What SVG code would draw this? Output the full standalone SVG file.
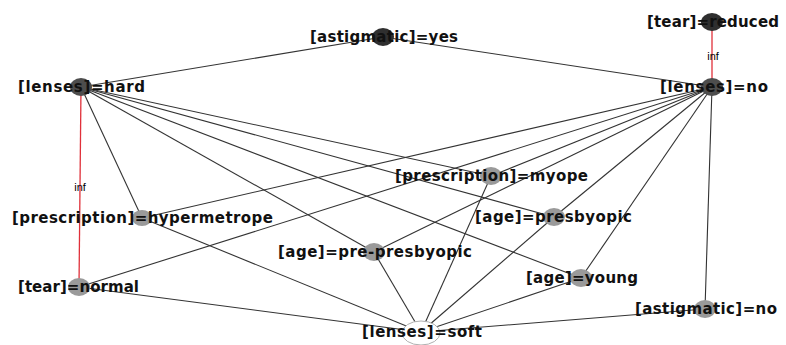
<svg xmlns="http://www.w3.org/2000/svg" width="786" height="345" viewBox="0 0 786 345">
<style>
.e{stroke:#333333;stroke-width:1.1;fill:none}
.r{stroke:#e0303a;stroke-width:1.3;fill:none}
.d1{fill:#2f2f2f}
.d2{fill:#4d4d4d}
.g{fill:#9a9a9a}
.w{fill:#ffffff;stroke:#b0b0b0;stroke-width:1}
.t{font-family:"DejaVu Sans","Liberation Sans",sans-serif;font-weight:bold;font-size:15px;fill:#111111;text-anchor:middle}
.i{font-family:"Liberation Sans",Arial,sans-serif;font-size:11px;fill:#000000;text-anchor:middle}
</style>
<rect width="786" height="345" fill="#ffffff"/>
<g id="connectors">
<line class="e" x1="81" y1="87" x2="383" y2="37"/>
<line class="e" x1="712" y1="87" x2="383" y2="37"/>
<line class="r" x1="712" y1="87" x2="712" y2="22"/>
<line class="r" x1="81" y1="87" x2="79" y2="287"/>
<line class="e" x1="81" y1="87" x2="142" y2="218"/>
<line class="e" x1="81" y1="87" x2="491" y2="176"/>
<line class="e" x1="81" y1="87" x2="554" y2="217"/>
<line class="e" x1="81" y1="87" x2="581" y2="278"/>
<line class="e" x1="81" y1="87" x2="374" y2="252"/>
<line class="e" x1="712" y1="87" x2="142" y2="218"/>
<line class="e" x1="712" y1="87" x2="79" y2="287"/>
<line class="e" x1="712" y1="87" x2="491" y2="176"/>
<line class="e" x1="712" y1="87" x2="374" y2="252"/>
<line class="e" x1="712" y1="87" x2="554" y2="217"/>
<line class="e" x1="712" y1="87" x2="581" y2="278"/>
<line class="e" x1="712" y1="87" x2="705" y2="309"/>
<line class="e" x1="421" y1="332" x2="79" y2="287"/>
<line class="e" x1="421" y1="332" x2="142" y2="218"/>
<line class="e" x1="421" y1="332" x2="374" y2="252"/>
<line class="e" x1="421" y1="332" x2="491" y2="176"/>
<line class="e" x1="421" y1="332" x2="554" y2="217"/>
<line class="e" x1="421" y1="332" x2="581" y2="278"/>
<line class="e" x1="421" y1="332" x2="705" y2="309"/>
<text class="i" x="713" y="60">inf</text>
<text class="i" x="80" y="191">inf</text>
</g>
<g id="astigmatic_yes"><ellipse class="d1" cx="383" cy="37" rx="11" ry="9"/><text class="t" x="384" y="42" textLength="148" lengthAdjust="spacing">[astigmatic]=yes</text></g>
<g id="tear_reduced"><ellipse class="d1" cx="712" cy="22" rx="11" ry="9"/><text class="t" x="713" y="27" textLength="132" lengthAdjust="spacing">[tear]=reduced</text></g>
<g id="lenses_hard"><ellipse class="d2" cx="81" cy="87" rx="11" ry="9"/><text class="t" x="81.5" y="92" textLength="127" lengthAdjust="spacing">[lenses]=hard</text></g>
<g id="lenses_no"><ellipse class="d2" cx="712" cy="87" rx="11" ry="9"/><text class="t" x="714" y="92" textLength="108" lengthAdjust="spacing">[lenses]=no</text></g>
<g id="prescription_myope"><ellipse class="g" cx="491" cy="176" rx="11" ry="9"/><text class="t" x="491.5" y="181" textLength="193" lengthAdjust="spacing">[prescription]=myope</text></g>
<g id="prescription_hypermetrope"><ellipse class="g" cx="142" cy="218" rx="10" ry="8"/><text class="t" x="142.5" y="223" textLength="261" lengthAdjust="spacing">[prescription]=hypermetrope</text></g>
<g id="age_presbyopic"><ellipse class="g" cx="554" cy="217" rx="11" ry="9"/><text class="t" x="553.5" y="222" textLength="157" lengthAdjust="spacing">[age]=presbyopic</text></g>
<g id="age_pre_presbyopic"><ellipse class="g" cx="374" cy="252" rx="11" ry="9"/><text class="t" x="375" y="257" textLength="194" lengthAdjust="spacing">[age]=pre-presbyopic</text></g>
<g id="age_young"><ellipse class="g" cx="581" cy="278" rx="11" ry="9"/><text class="t" x="582" y="283" textLength="112" lengthAdjust="spacing">[age]=young</text></g>
<g id="tear_normal"><ellipse class="g" cx="79" cy="287" rx="11" ry="9"/><text class="t" x="78.5" y="292" textLength="121" lengthAdjust="spacing">[tear]=normal</text></g>
<g id="astigmatic_no"><ellipse class="g" cx="705" cy="309" rx="11" ry="9"/><text class="t" x="706" y="314" textLength="142" lengthAdjust="spacing">[astigmatic]=no</text></g>
<g id="lenses_soft"><ellipse class="w" cx="421" cy="333" rx="19" ry="12"/><text class="t" x="422" y="337" textLength="120" lengthAdjust="spacing">[lenses]=soft</text></g>
</svg>
